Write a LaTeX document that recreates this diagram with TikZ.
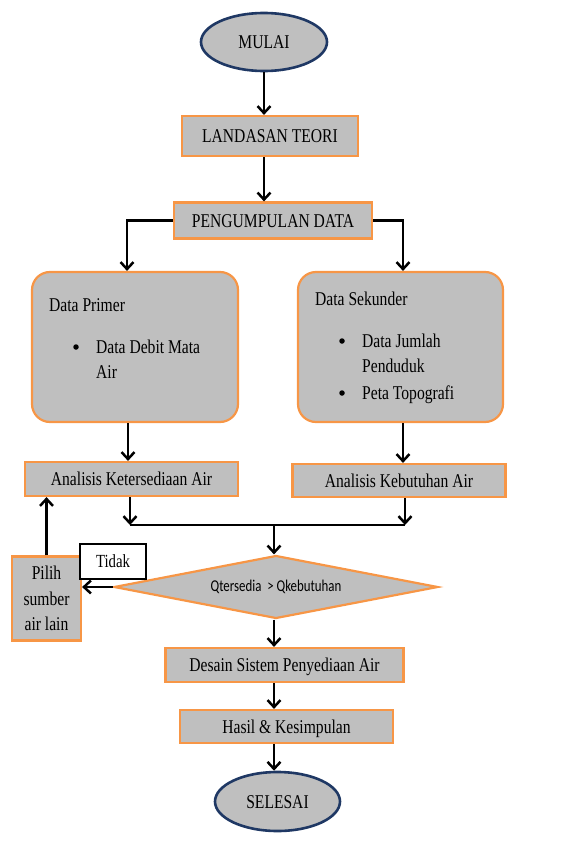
\documentclass[tikz,border=0pt]{standalone}
\usepackage{fontspec}
\setmainfont[FakeStretch=0.8]{Liberation Serif}
\newfontfamily\diafont[FakeStretch=0.78]{Carlito}
\usetikzlibrary{shapes.geometric,arrows.meta,calc}
\definecolor{boxgray}{RGB}{191,191,191}
\definecolor{boxorange}{RGB}{247,150,70}
\definecolor{ovalblue}{RGB}{31,56,100}
\begin{document}
\begin{tikzpicture}[x=1pt,y=-1pt,
  every node/.style={font=\fontsize{19.5}{25.3}\selectfont, inner sep=0pt},
  box/.style={rectangle, draw=boxorange, fill=boxgray, line width=2.2pt, text height=13pt, text depth=0pt},
  multibox/.style={rectangle, draw=boxorange, fill=boxgray, line width=2.2pt, align=center},
  roundbox/.style={rectangle, rounded corners=18pt, draw=boxorange, fill=boxgray, line width=2.2pt},
  oval/.style={ellipse, draw=ovalblue, fill=boxgray, line width=2.6pt, text height=13pt, text depth=0pt},
  decision/.style={diamond, aspect=5, draw=boxorange, fill=boxgray, line width=2.2pt, font=\diafont\fontsize{16.5}{18}\selectfont},
  labelbox/.style={rectangle, draw=black, fill=white, line width=2.4pt, font=\fontsize{18.5}{20}\selectfont},
  arr/.style={-{Straight Barb[length=7pt,width=13pt]}, line width=2.5pt},
  plainline/.style={line width=2.5pt},
  txt/.style={anchor=west, text height=13pt, text depth=0pt},
  bul/.style={circle, fill=black, minimum size=5.5pt},
  ]
\useasboundingbox (0,0) rectangle (560,843);

% main nodes
\node[oval, minimum width=126, minimum height=58] (mulai) at (264,42) {MULAI};
\node[box, minimum width=176, minimum height=40] (land) at (270,136) {LANDASAN TEORI};
\node[box, minimum width=198, minimum height=36] (peng) at (273,220.5) {PENGUMPULAN DATA};
\node[roundbox, minimum width=206, minimum height=150] (prim) at (135,347) {};
\node[roundbox, minimum width=205, minimum height=150] (sek) at (400.5,347) {};
\node[box, minimum width=213, minimum height=34] (ket) at (131.5,479) {Analisis Ketersediaan Air};
\node[box, minimum width=213, minimum height=33] (keb) at (399,480.5) {Analisis Kebutuhan Air};
\node[decision, minimum width=324, minimum height=63] (cond) at (276,587) {Qtersedia~~> Qkebutuhan};
\node[multibox, minimum width=69, minimum height=84] (pilih) at (46.5,598.5) {Pilih\\sumber\\air lain};
\node[labelbox, minimum width=66, minimum height=35] (tidak) at (113,561.5) {Tidak};
\node[box, minimum width=238, minimum height=34] (des) at (284.5,665) {Desain Sistem Penyediaan Air};
\node[box, minimum width=213, minimum height=33] (has) at (286.5,726.5) {Hasil \& Kesimpulan};
\node[oval, minimum width=125, minimum height=59] (sel) at (277.5,801.5) {SELESAI};

% texts inside rounded boxes
\node[txt] (primT) at (49,304.5) {Data Primer};
\node[bul] (primB) at (76,347) {};
\node[txt] (primI1) at (96,346.5) {Data Debit Mata};
\node[txt] (primI2) at (96,371.5) {Air};
\node[txt] (sekT) at (315,298.7) {Data Sekunder};
\node[bul] (sekB1) at (342,341) {};
\node[txt] (sekI1) at (362,340.7) {Data Jumlah};
\node[txt] (sekI2) at (362,365.7) {Penduduk};
\node[bul] (sekB2) at (342,393) {};
\node[txt] (sekI3) at (362,392.7) {Peta Topografi};

% helper coordinates
\coordinate (xl) at (127,0);
\coordinate (xl2) at (128,0);
\coordinate (xr) at (403,0);
\coordinate (xc) at (274,0);
\coordinate (jl) at (130,525);
\coordinate (jr) at (405,525);
\coordinate (jm) at (274,525);

% connectors
\draw[arr] (mulai.south) -- (mulai.south |- land.north);
\draw[arr] (mulai.south |- land.south) -- (mulai.south |- peng.north);
\draw[arr] (peng.west) -| (xl |- prim.north);
\draw[arr] (peng.east) -| (xr |- sek.north);
\draw[arr] (xl2 |- prim.south) -- (xl2 |- ket.north);
\draw[arr] (xr |- sek.south) -- (xr |- keb.north);
\draw[arr] (jl |- ket.south) -- (jl);
\draw[arr] (jr |- keb.south) -- (jr);
\draw[plainline] (jl) -- (jr);
\draw[arr] (jm) -- (jm |- cond.north);
\draw[arr] (cond.west) -- (cond.west -| pilih.east);
\draw[arr] (pilih.north) -- (pilih.north |- ket.south);
\draw[arr] (xc |- cond.south) -- (xc |- des.north);
\draw[arr] (xc |- des.south) -- (xc |- has.north);
\draw[arr] (xc |- has.south) -- (xc |- sel.north);
\end{tikzpicture}
\end{document}
